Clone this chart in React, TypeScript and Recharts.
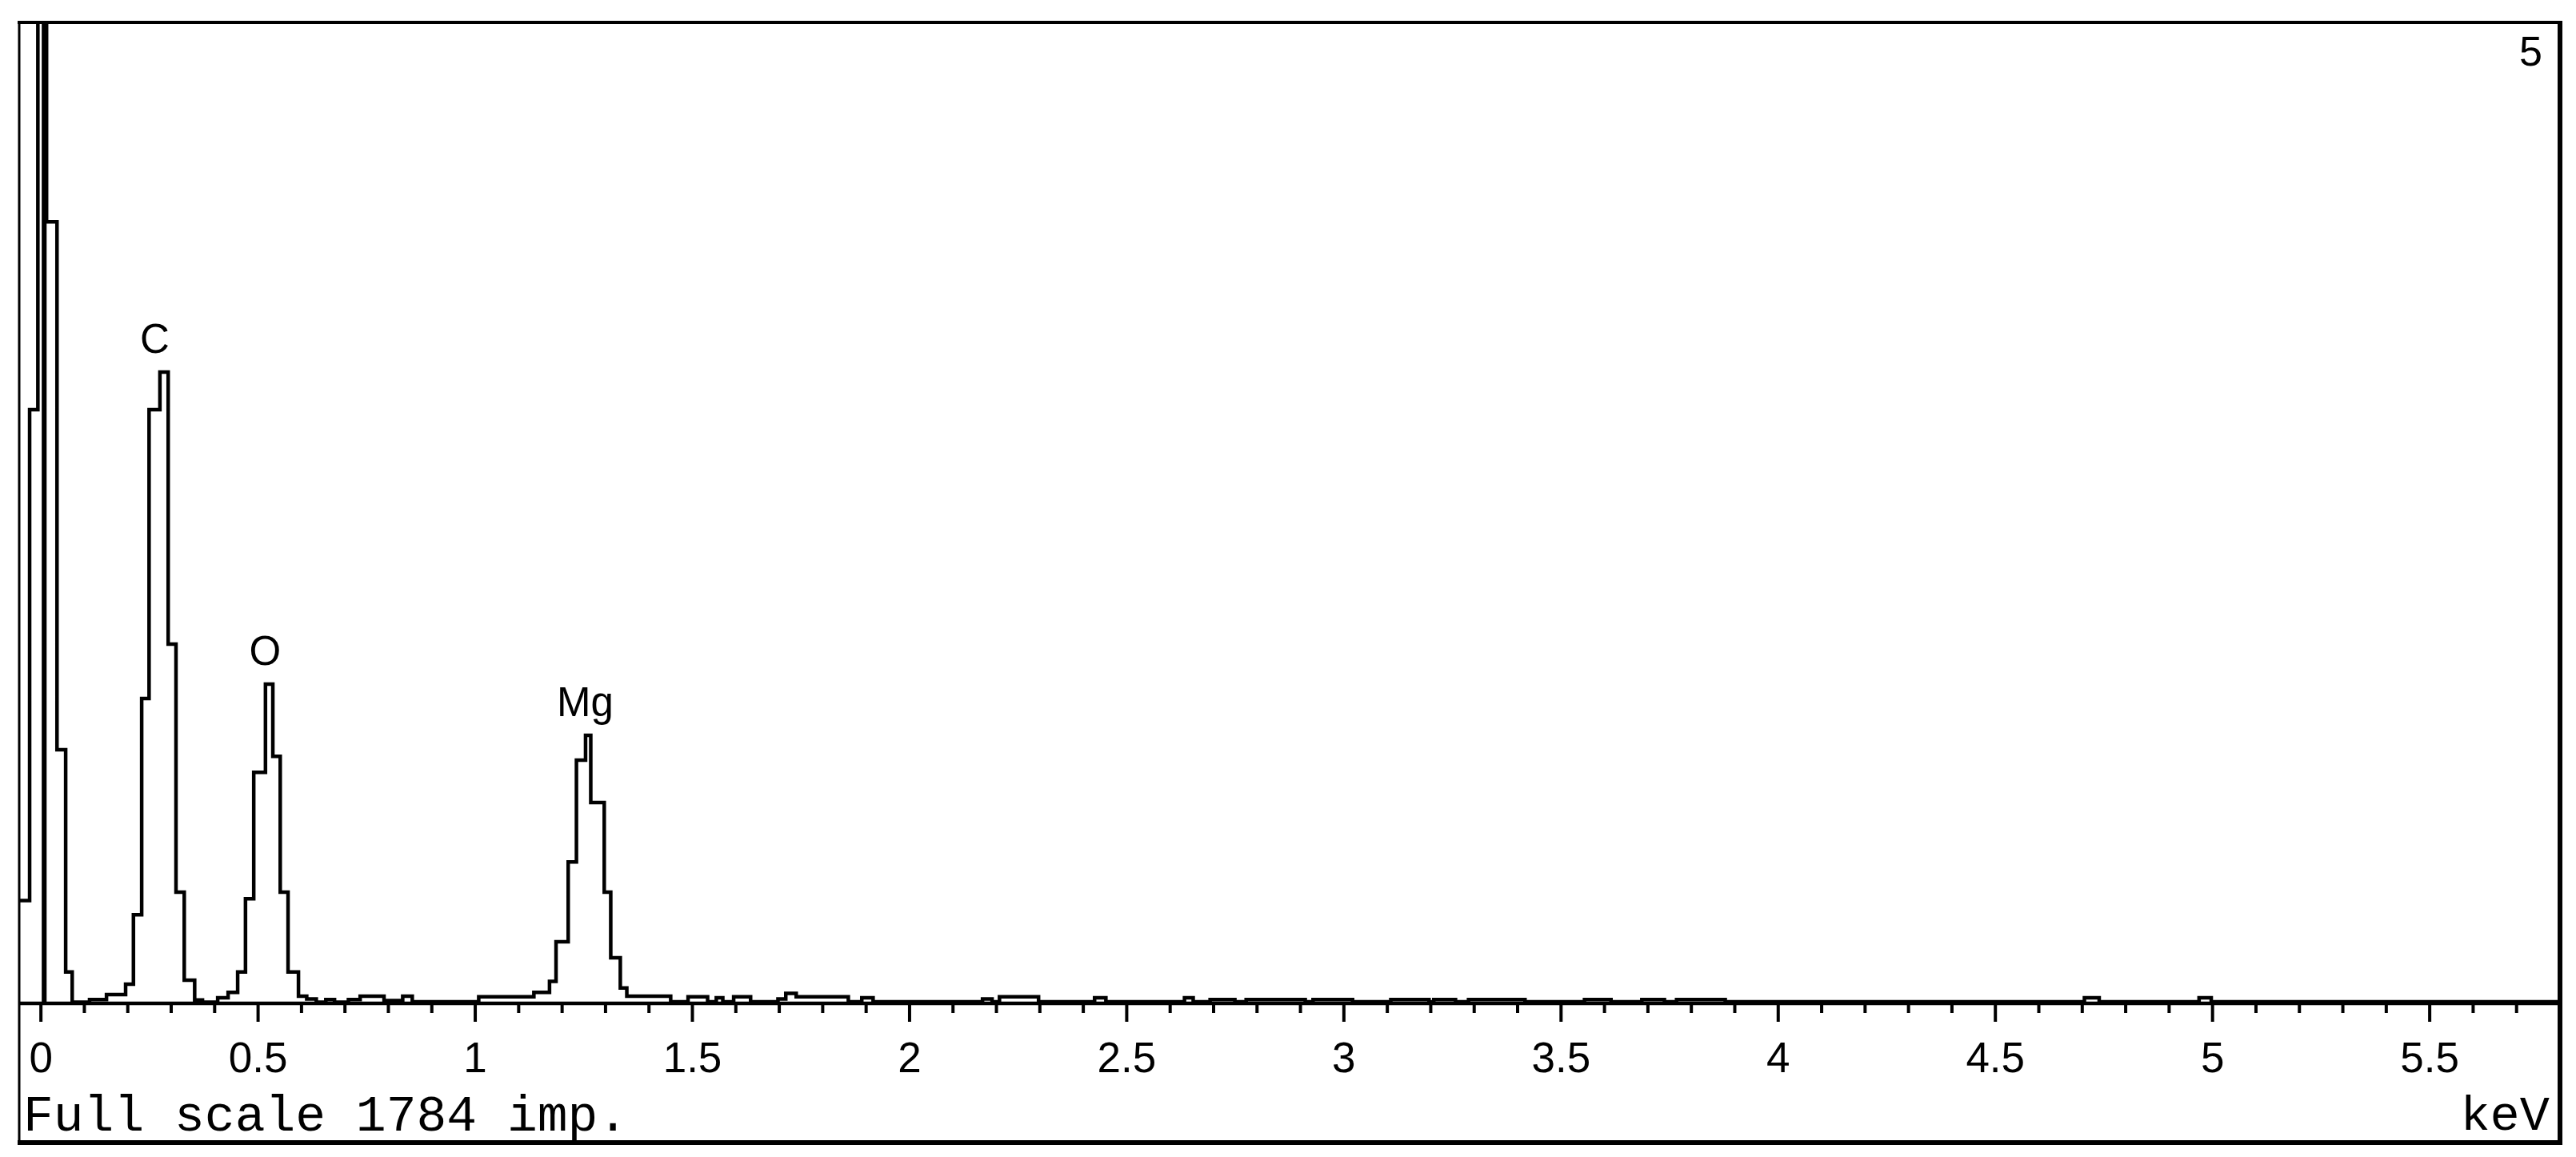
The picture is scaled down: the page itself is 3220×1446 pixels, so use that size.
import React from 'react'
import { LineChart, Line, XAxis, YAxis, ReferenceDot } from 'recharts'

// EDS spectrum. Each entry starts a histogram step (stepAfter).
const stepKeV = [
  -0.05, -0.026, -0.007, 0.006, 0.009, 0.013, 0.037, 0.057, 0.072, 0.112,
  0.151, 0.195, 0.213, 0.232, 0.249, 0.274, 0.293, 0.311, 0.33, 0.354,
  0.372, 0.407, 0.431, 0.453, 0.471, 0.49, 0.517, 0.534, 0.551, 0.569,
  0.593, 0.612, 0.634, 0.656, 0.676, 0.708, 0.735, 0.79, 0.833, 0.855,
  1.008, 1.135, 1.171, 1.186, 1.214, 1.233, 1.254, 1.266, 1.297, 1.312,
  1.334, 1.349, 1.45, 1.49, 1.535, 1.555, 1.57, 1.595, 1.634, 1.697,
  1.715, 1.739, 1.859, 1.89, 1.916, 2.168, 2.19, 2.207, 2.297, 2.426,
  2.452, 2.633, 2.653, 2.692, 2.749, 2.775, 2.911, 2.929, 3.02, 3.108,
  3.196, 3.207, 3.257, 3.287, 3.417, 3.554, 3.615, 3.686, 3.738, 3.766,
  3.878, 4.705, 4.739, 4.969, 4.997, 5.8,
]
const stepCounts = [
  187, 1079, 2400, 0, 2400, 1420, 461, 57, 2, 7,
  16, 35, 161, 554, 1079, 1147, 653, 202, 42, 6,
  2, 10, 20, 57, 190, 420, 580, 449, 202, 57,
  13, 8, 2, 7, 2, 7, 13, 5, 13, 3,
  12, 20, 40, 112, 257, 442, 487, 365, 202, 83,
  28, 13, 3, 12, 3, 10, 3, 12, 3, 8,
  18, 12, 3, 10, 3, 8, 3, 12, 3, 10,
  3, 10, 3, 7, 3, 7, 3, 7, 3, 7,
  3, 7, 3, 7, 3, 7, 3, 7, 3, 7,
  3, 10, 3, 10, 3, 3,
]

const fullScale = 1784
const majorTicks = [0, 0.5, 1, 1.5, 2, 2.5, 3, 3.5, 4, 4.5, 5, 5.5]
const majorLabels = ['0', '0.5', '1', '1.5', '2', '2.5', '3', '3.5', '4', '4.5', '5', '5.5']
const minorTicks = Array.from({ length: 58 }, (_, i) => i / 10)

const peakNames = ['C', 'O', 'Mg']
const peakKeV = [0.262, 0.516, 1.253]
const peakCounts = [1147, 580, 487]

const data = stepKeV.map((keV, i) => ({ keV, counts: stepCounts[i] }))

const sans = '"Liberation Sans", Arial, sans-serif'
const mono = '"Liberation Mono", "Courier New", monospace'

function KevTick(props: any) {
  const { x, y, payload } = props
  const idx = majorTicks.findIndex((m) => Math.abs(m - payload.value) < 1e-6)
  const major = idx >= 0
  return (
    <g>
      <line x1={x} x2={x} y1={y} y2={y + (major ? 23 : 12)} stroke="#000" strokeWidth={4} />
      {major && (
        <text x={x} y={y + 86} textAnchor="middle" fontFamily={sans} fontSize={53} fill="#000">
          {majorLabels[idx]}
        </text>
      )}
    </g>
  )
}

const peakLabel = (name: string) => (p: any) => {
  const vb = p.viewBox || {}
  return (
    <text x={vb.x + (vb.width || 0) / 2} y={vb.y - 24} textAnchor="middle" fontFamily={sans} fontSize={51} fill="#000">
      {name}
    </text>
  )
}

export default function App() {
  return (
    <div style={{ position: 'absolute', left: 0, top: 0, width: 3220, height: 1446, background: '#fff' }}>
      <LineChart width={3220} height={1446} data={data} margin={{ top: 27, right: 20, bottom: 0, left: 24 }}>
        <XAxis
          dataKey="keV"
          type="number"
          domain={[-0.05, 5.8]}
          allowDataOverflow
          ticks={minorTicks}
          interval={0}
          tick={<KevTick />}
          tickLine={false}
          tickSize={0}
          tickMargin={0}
          height={192}
          axisLine={{ stroke: '#000', strokeWidth: 4.5 }}
        />
        <YAxis hide type="number" domain={[0, fullScale]} allowDataOverflow width={0} />
        <Line
          type="stepAfter"
          dataKey="counts"
          stroke="#000"
          strokeWidth={4.5}
          dot={false}
          activeDot={false}
          isAnimationActive={false}
        />
        {peakNames.map((name, i) => (
          <ReferenceDot
            key={name}
            x={peakKeV[i]}
            y={peakCounts[i]}
            r={0}
            fill="none"
            stroke="none"
            label={peakLabel(name)}
          />
        ))}
      </LineChart>
      <svg width={3220} height={1446} style={{ position: 'absolute', left: 0, top: 0, pointerEvents: 'none' }}>
        <line x1={22} x2={3203} y1={28} y2={28} stroke="#000" strokeWidth={4} />
        <line x1={24} x2={24} y1={26} y2={1430} stroke="#000" strokeWidth={3} />
        <line x1={3200} x2={3200} y1={26} y2={1431} stroke="#000" strokeWidth={6} />
        <line x1={22} x2={3203} y1={1428} y2={1428} stroke="#000" strokeWidth={6} />
        <text x={3178} y={82} textAnchor="end" fontFamily={sans} fontSize={52} fill="#000">5</text>
        <text x={29} y={1413} fontFamily={mono} fontSize={63} fill="#000">{`Full scale ${fullScale} imp.`}</text>
        <text x={3187} y={1412} textAnchor="end" fontFamily={mono} fontSize={62} fill="#000">keV</text>
      </svg>
    </div>
  )
}
